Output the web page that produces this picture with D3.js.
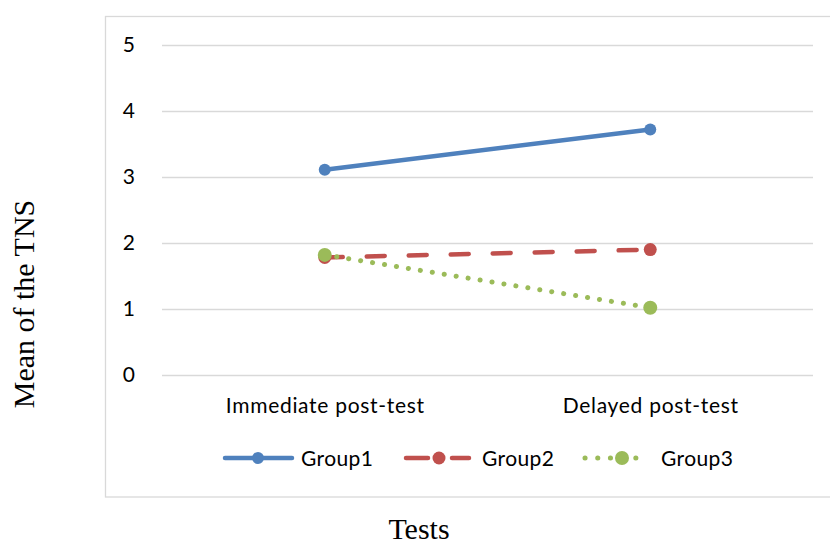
<!DOCTYPE html>
<html>
<head>
<meta charset="utf-8">
<script src="https://cdn.jsdelivr.net/npm/d3@7"></script>
<style>
  body { margin: 0; background: #fff; }
  svg { display: block; }
</style>
</head>
<body>
<svg id="chart"></svg>
<script>
const width = 830
const height = 546

const categories = ['Immediate post-test', 'Delayed post-test']
const seriesNames = ['Group1', 'Group2', 'Group3']
const group1 = [3.11, 3.72]
const group2 = [1.78, 1.9]
const group3 = [1.82, 1.02]
const yTicks = [0, 1, 2, 3, 4, 5]

const colors = ['#4F81BD', '#C0504D', '#9BBB59']
const dashes = [null, '18 24', '0.1 12']
const legendDashes = [null, '22 24 17', '0.1 12.6']
const radii = [6, 6.5, 7]

const series = seriesNames.map((name, i) => ({
  name,
  values: [group1, group2, group3][i],
  color: colors[i],
  dash: dashes[i],
  legendDash: legendDashes[i],
  r: radii[i],
}))

const plot = { left: 162, right: 813, top: 45, bottom: 375 }
const font = 'Lato, Carlito, Calibri, sans-serif'
const serif = '"Liberation Serif", "Times New Roman", serif'

const svg = d3.select('#chart')
  .attr('width', width)
  .attr('height', height)

// chart area border
svg.append('rect')
  .attr('x', 105.5).attr('y', 16.5)
  .attr('width', 760).attr('height', 480.5)
  .attr('fill', 'none')
  .attr('stroke', '#d9d9d9')
  .attr('stroke-width', 1.3)

const x = d3.scalePoint()
  .domain(categories)
  .range([plot.left, plot.right])
  .padding(0.5)

const y = d3.scaleLinear()
  .domain([0, 5])
  .range([plot.bottom, plot.top])

// gridlines + y labels
const yAxis = svg.append('g')
  .attr('transform', `translate(${plot.left},0)`)
  .call(d3.axisLeft(y).tickValues(yTicks).tickSize(-(plot.right - plot.left)).tickPadding(27).tickFormat(d3.format('d')))
yAxis.select('.domain').remove()
yAxis.selectAll('.tick line').attr('stroke', '#d9d9d9').attr('stroke-width', 1.5)
yAxis.selectAll('.tick text')
  .attr('fill', '#000')
  .style('font-family', font)
  .style('font-size', '21px')

// x labels
const xAxis = svg.append('g')
  .attr('transform', `translate(0,${plot.bottom})`)
  .call(d3.axisBottom(x).tickSize(0).tickPadding(23))
xAxis.select('.domain').remove()
xAxis.selectAll('.tick text')
  .attr('fill', '#000')
  .style('font-family', font)
  .style('font-size', '21px')
  .style('letter-spacing', '0.7px')

const line = d3.line()
  .x((d, i) => x(categories[i]))
  .y(d => y(d))

series.forEach(s => {
  const g = svg.append('g')
  g.append('path')
    .datum(s.values)
    .attr('d', line)
    .attr('fill', 'none')
    .attr('stroke', s.color)
    .attr('stroke-width', s.name === 'Group3' ? 5 : 4.5)
    .attr('stroke-linecap', 'round')
    .attr('stroke-dasharray', s.dash)
  g.selectAll('circle')
    .data(s.values)
    .join('circle')
    .attr('cx', (d, i) => x(categories[i]))
    .attr('cy', d => y(d))
    .attr('r', s.r)
    .attr('fill', s.color)
})

// legend
const legendX = [225, 406, 585]
const legendMarker = [33, 33, 37]
const legend = svg.append('g').attr('transform', 'translate(0,458)')
series.forEach((s, i) => {
  const lg = legend.append('g').attr('transform', `translate(${legendX[i]},0)`)
  lg.append('line')
    .attr('x1', 0).attr('x2', i === 0 ? 67 : 63)
    .attr('stroke', s.color)
    .attr('stroke-width', s.name === 'Group3' ? 5 : 4.5)
    .attr('stroke-linecap', 'round')
    .attr('stroke-dasharray', s.legendDash)
  lg.append('circle')
    .attr('cx', legendMarker[i]).attr('r', s.r)
    .attr('fill', s.color)
  lg.append('text')
    .attr('x', 76).attr('dy', '0.36em')
    .style('font-family', font)
    .style('font-size', '21px')
    .style('letter-spacing', '0.4px')
    .text(s.name)
})

// axis titles
svg.append('text')
  .attr('transform', 'translate(34,304) rotate(-90)')
  .attr('text-anchor', 'middle')
  .style('font-family', serif)
  .style('font-size', '30px')
  .text('Mean of the TNS')

svg.append('text')
  .attr('x', 419).attr('y', 539)
  .attr('text-anchor', 'middle')
  .style('font-family', serif)
  .style('font-size', '30px')
  .text('Tests')
</script>
</body>
</html>
